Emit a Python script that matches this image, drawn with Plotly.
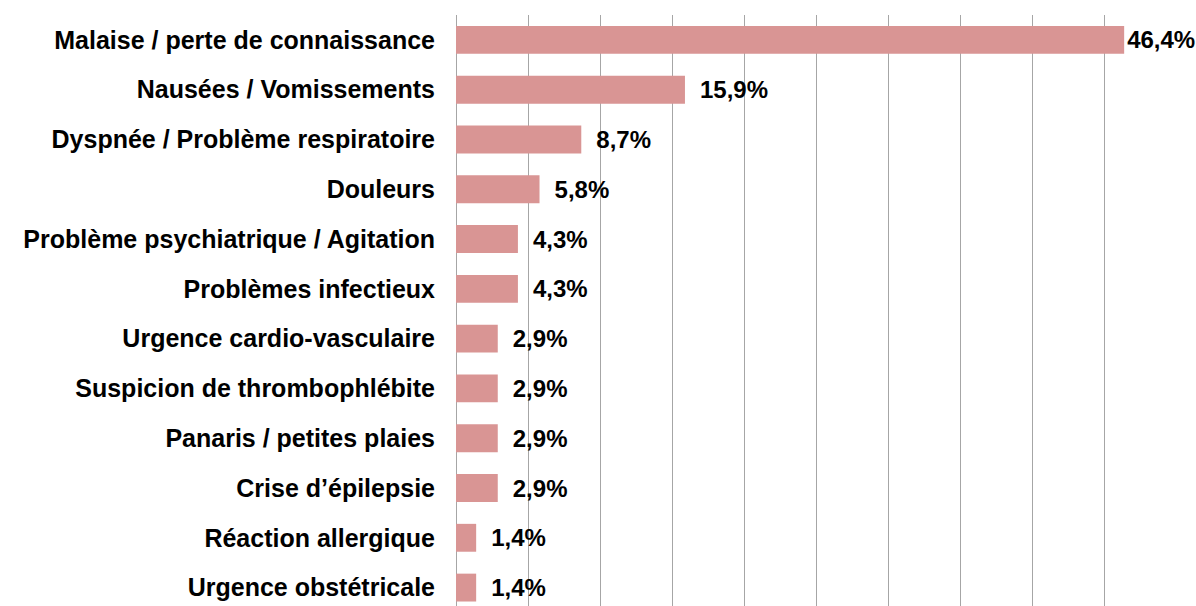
import plotly.graph_objects as go

categories = [
    "Malaise / perte de connaissance",
    "Nausées / Vomissements",
    "Dyspnée / Problème respiratoire",
    "Douleurs",
    "Problème psychiatrique / Agitation",
    "Problèmes infectieux",
    "Urgence cardio-vasculaire",
    "Suspicion de thrombophlébite",
    "Panaris / petites plaies",
    "Crise d’épilepsie",
    "Réaction allergique",
    "Urgence obstétricale",
]
values = [46.4, 15.9, 8.7, 5.8, 4.3, 4.3, 2.9, 2.9, 2.9, 2.9, 1.4, 1.4]

XMAX = 50
labels = []
for v in values:
    s = f"{v:.1f}%".replace(".", ",")
    # Excel-like gap after bar end, except when the label would overflow the chart
    labels.append(s if v > 40 else "\u2002" + s)

FONT = "Liberation Sans, Arial, sans-serif"

fig = go.Figure(go.Bar(
    x=values,
    y=list(range(len(categories))),
    orientation="h",
    marker=dict(color="#D99594", line=dict(width=0)),
    width=0.56,
    text=labels,
    textposition="outside",
    textfont=dict(family=FONT, size=24, color="#000000", weight="bold"),
    cliponaxis=False,
))

fig.update_layout(
    width=1196, height=606,
    margin=dict(l=456, r=20, t=15, b=0),
    paper_bgcolor="white", plot_bgcolor="white",
    showlegend=False,
    font=dict(family=FONT, size=18, color="#000000"),
)
fig.update_xaxes(
    range=[0, XMAX], dtick=5, showgrid=True, gridcolor="#A6A6A6", gridwidth=1,
    showticklabels=False, zeroline=True, zerolinecolor="#A6A6A6", zerolinewidth=1,
    showline=False, automargin=False,
)
fig.update_yaxes(
    tickmode="array", tickvals=list(range(len(categories))), ticktext=categories,
    range=[11.37, -0.5], showgrid=False, zeroline=False, showline=False,
    ticklabelstandoff=20, automargin=False,
    tickfont=dict(family=FONT, size=25, color="#000000", weight="bold"),
)

fig.write_html(
    "out.html",
    config={"displayModeBar": False},
    post_script="document.body.style.margin='0px';document.body.style.overflow='hidden';",
)
